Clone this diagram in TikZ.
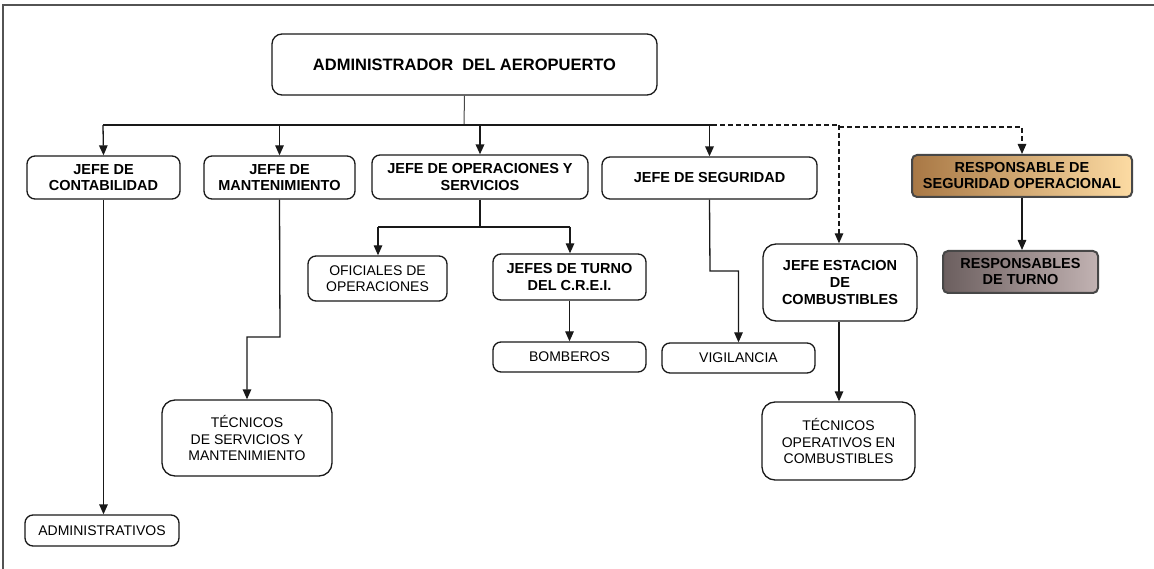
\documentclass[tikz,border=0pt]{standalone}
\usepackage{fontspec}
\setmainfont{Liberation Sans}
\usetikzlibrary{arrows.meta}

\definecolor{ink}{rgb}{0.1,0.1,0.1}
\definecolor{tanDark}{rgb}{0.66,0.47,0.27}
\definecolor{tanMid}{rgb}{0.90,0.70,0.45}
\definecolor{tanLight}{rgb}{0.99,0.86,0.64}
\definecolor{mauveDark}{rgb}{0.42,0.37,0.37}
\definecolor{mauveMid}{rgb}{0.58,0.52,0.52}
\definecolor{mauveLight}{rgb}{0.76,0.70,0.70}

\tikzset{
  orgbox/.style={draw=ink, line width=1.3pt, rounded corners=8pt, fill=white,
    align=center, inner sep=2pt, font=\fontsize{14}{16.5}\selectfont},
  bigbox/.style={orgbox, rounded corners=13pt},
  boldtxt/.style={font=\fontsize{14.5}{16.7}\selectfont\bfseries},
  gradbox/.style={draw=ink!80, line width=2pt, rounded corners=5pt,
    align=center, inner sep=2pt, font=\fontsize{14.5}{16}\selectfont\bfseries},
  link/.style={draw=ink, line width=1.3pt},
  arrowlink/.style={link, -{Triangle[length=10pt,width=8.5pt]}},
  dashlink/.style={link, dash pattern=on 5pt off 3pt},
}

\begin{document}
\begin{tikzpicture}[x=1pt,y=-1pt]
\useasboundingbox (0,0) rectangle (1154,569);

% page frame
\draw[line width=1.5pt, ink!75] (3,569) -- (3,5) -- (1154,5);

% top level
\node[orgbox, rounded corners=10pt, minimum width=385pt, minimum height=61pt,
      font=\fontsize{16.5}{19}\selectfont\bfseries]
  (admin) at (464.5,64.5) {ADMINISTRADOR~~DEL AEROPUERTO};

% department heads
\node[orgbox, boldtxt, minimum width=153pt, minimum height=43pt] (cont) at (103.5,177.5) {JEFE DE\\CONTABILIDAD};
\node[orgbox, boldtxt, minimum width=151pt, minimum height=43pt] (mant) at (279.5,177.5) {JEFE DE\\MANTENIMIENTO};
\node[orgbox, boldtxt, minimum width=216pt, minimum height=44pt] (oper) at (480,177) {JEFE DE OPERACIONES Y\\SERVICIOS};
\node[orgbox, boldtxt, minimum width=215pt, minimum height=42pt] (seg) at (709.5,178) {JEFE DE SEGURIDAD};
\node[bigbox, boldtxt, minimum width=154pt, minimum height=77pt] (estac) at (840,282.5) {JEFE ESTACION\\DE\\COMBUSTIBLES};

% safety branch
\node[gradbox, minimum width=220pt, minimum height=42pt,
      left color=tanDark, middle color=tanMid, right color=tanLight]
  (rso) at (1022,176) {RESPONSABLE DE\\SEGURIDAD OPERACIONAL};
\node[gradbox, minimum width=155pt, minimum height=42pt,
      left color=mauveDark, middle color=mauveMid, right color=mauveLight]
  (rt) at (1020.5,272) {RESPONSABLES\\DE TURNO};

% staff level
\node[orgbox, minimum width=139pt, minimum height=45pt] (ofi) at (377.5,278.5) {OFICIALES DE\\OPERACIONES};
\node[orgbox, boldtxt, minimum width=153pt, minimum height=46pt] (turno) at (569.5,277) {JEFES DE TURNO\\DEL C.R.E.I.};
\node[orgbox, minimum width=153pt, minimum height=30pt] (bomb) at (569.5,357) {BOMBEROS};
\node[orgbox, minimum width=153pt, minimum height=30pt] (vig) at (738.5,358) {VIGILANCIA};
\node[bigbox, minimum width=153pt, minimum height=78pt] (tcomb) at (838.5,441) {TÉCNICOS\\OPERATIVOS EN\\COMBUSTIBLES};
\node[bigbox, minimum width=170pt, minimum height=76pt] (tmant) at (247,438) {TÉCNICOS\\DE SERVICIOS Y\\MANTENIMIENTO};
\node[orgbox, minimum width=154pt, minimum height=31pt] (admv) at (102,530.5) {ADMINISTRATIVOS};

% bus coordinates
\coordinate (busA) at (464,125);
\coordinate (busL) at (103,125);
\coordinate (busR) at (712,125);
\coordinate (busD) at (839,125);
\coordinate (busE) at (839,127);
\coordinate (busF) at (1022,127);
\coordinate (opSplit) at (480,227);
\coordinate (opL) at (378,227);
\coordinate (opR) at (570,227);
\coordinate (mantBend) at (280,337);
\coordinate (segBend) at (710,271);

% main bus
\draw[link, line width=1pt, ink!80] (admin.south) -- (busA);
\draw[link] (busL) -- (busR);
\draw[arrowlink] (busL) -- (cont.north);
\draw[arrowlink] (mant.north |- busL) -- (mant.north);
\draw[arrowlink, line width=1.8pt] (oper.north |- busL) -- (oper.north);
\draw[arrowlink, line width=1.8pt] (seg.north |- busL) -- (seg.north);

% advisory (dashed) lines
\draw[dashlink] (busR) -- (busD);
\draw[dashlink, -{Triangle[length=10pt,width=8.5pt]}] (busD) -- (busD |- estac.north);
\draw[dashlink, -{Triangle[length=10pt,width=8.5pt]}] (busE) -- (busF) -- (rso.north);

% subordinate links
\draw[arrowlink] (rso.south) -- (rso.south |- rt.north);
\draw[arrowlink] (cont.south) -- (cont.south |- admv.north);
\draw[arrowlink] (mant.south) -- (mantBend) -| (tmant.north);
\draw[link, line width=1.8pt] (oper.south) -- (opSplit);
\draw[link] (opL) -- (opR);
\draw[arrowlink] (opL) -- (opL |- ofi.north);
\draw[arrowlink] (opR) -- (opR |- turno.north);
\draw[arrowlink] (turno.south) -- (bomb.north);
\draw[arrowlink] (seg.south) -- (segBend) -| (vig.north);
\draw[arrowlink] (estac.south -| busD) -- (busD |- tcomb.north);
\end{tikzpicture}
\end{document}
